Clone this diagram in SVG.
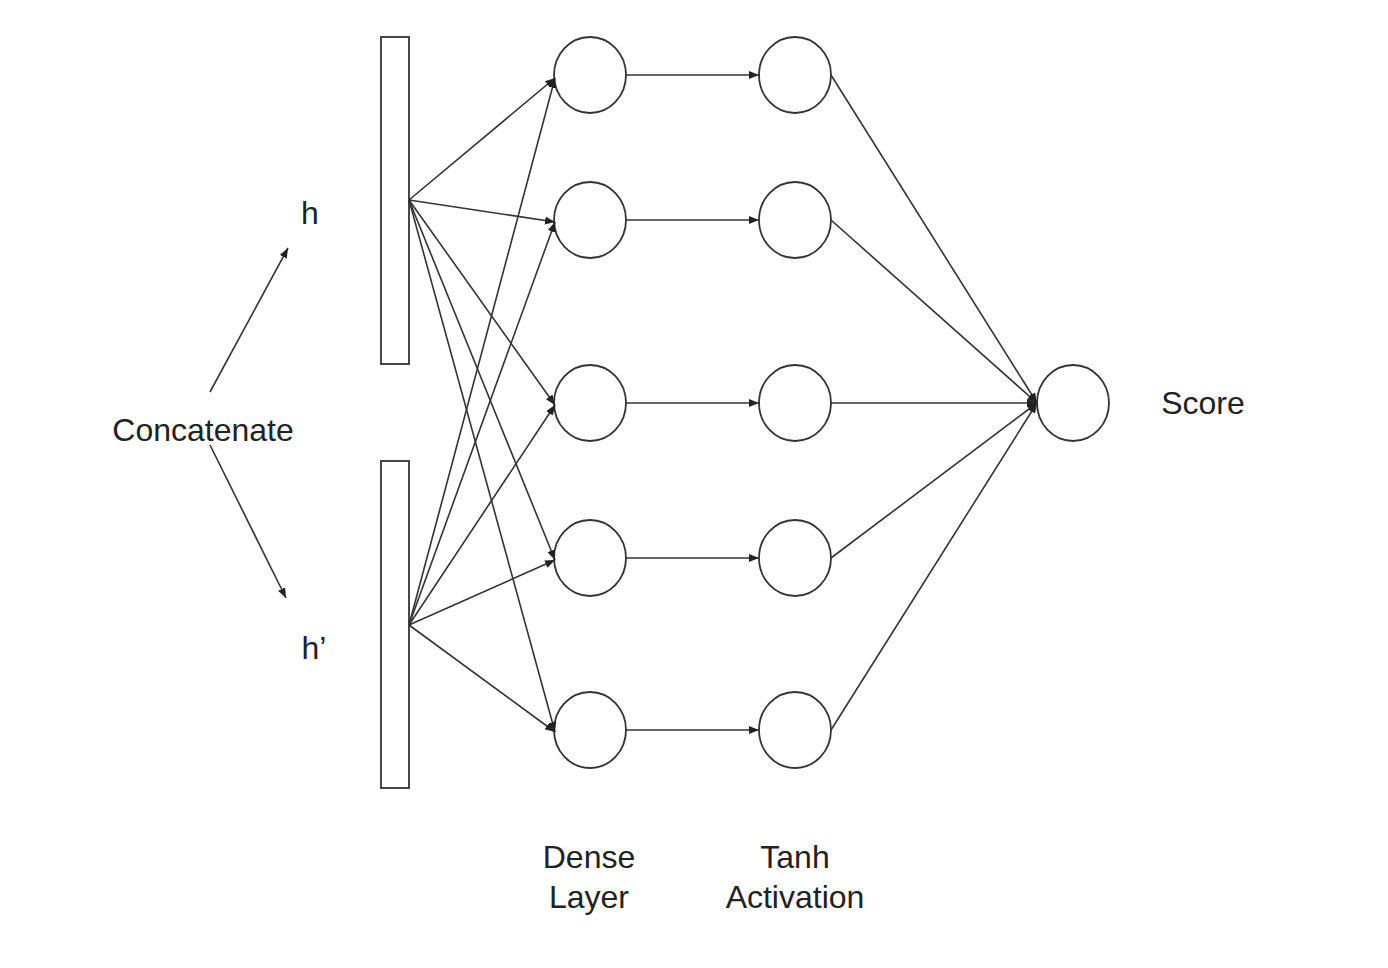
<svg xmlns="http://www.w3.org/2000/svg" width="1388" height="968" viewBox="0 0 1388 968">
<defs>
<marker id="arr" markerUnits="userSpaceOnUse" markerWidth="12" markerHeight="10" refX="10" refY="4" orient="auto">
<path d="M0,0 L10,4 L0,8 Z" fill="#222"/>
</marker>
<style>
.n{fill:#fff;stroke:#333;stroke-width:1.8}
.c line{stroke:#333;stroke-width:1.6;fill:none}
.a{marker-end:url(#arr)}
text{font-family:"Liberation Sans",Arial,sans-serif;font-size:32px;fill:#222;text-anchor:middle}
</style>
</defs>
<rect width="1388" height="968" fill="#fff"/>
<g id="h-vec"><rect class="n" x="381" y="37" width="28" height="327"/></g>
<g id="hp-vec"><rect class="n" x="381" y="461" width="28" height="327"/></g>
<g id="d1"><ellipse class="n" cx="590" cy="75" rx="36" ry="38"/></g>
<g id="d2"><ellipse class="n" cx="590" cy="220" rx="36" ry="38"/></g>
<g id="d3"><ellipse class="n" cx="590" cy="403" rx="36" ry="38"/></g>
<g id="d4"><ellipse class="n" cx="590" cy="558" rx="36" ry="38"/></g>
<g id="d5"><ellipse class="n" cx="590" cy="730" rx="36" ry="38"/></g>
<g id="t1"><ellipse class="n" cx="795" cy="75" rx="36" ry="38"/></g>
<g id="t2"><ellipse class="n" cx="795" cy="220" rx="36" ry="38"/></g>
<g id="t3"><ellipse class="n" cx="795" cy="403" rx="36" ry="38"/></g>
<g id="t4"><ellipse class="n" cx="795" cy="558" rx="36" ry="38"/></g>
<g id="t5"><ellipse class="n" cx="795" cy="730" rx="36" ry="38"/></g>
<g id="score"><ellipse class="n" cx="1073" cy="403" rx="36" ry="38"/></g>
<g class="c" id="connectors">
<line class="a" x1="210" y1="392" x2="288" y2="248"/>
<line class="a" x1="210" y1="445" x2="286" y2="598"/>
<line class="a" x1="409" y1="200" x2="555" y2="78"/>
<line class="a" x1="409" y1="200" x2="555" y2="222"/>
<line class="a" x1="409" y1="200" x2="555" y2="405"/>
<line class="a" x1="409" y1="200" x2="555" y2="560"/>
<line class="a" x1="409" y1="200" x2="555" y2="732"/>
<line class="a" x1="409" y1="625" x2="555" y2="78"/>
<line class="a" x1="409" y1="625" x2="555" y2="222"/>
<line class="a" x1="409" y1="625" x2="555" y2="405"/>
<line class="a" x1="409" y1="625" x2="555" y2="560"/>
<line class="a" x1="409" y1="625" x2="555" y2="732"/>
<line class="a" x1="626" y1="75" x2="759" y2="75"/>
<line class="a" x1="626" y1="220" x2="759" y2="220"/>
<line class="a" x1="626" y1="403" x2="759" y2="403"/>
<line class="a" x1="626" y1="558" x2="759" y2="558"/>
<line class="a" x1="626" y1="730" x2="759" y2="730"/>
<line class="a" x1="831" y1="75" x2="1037" y2="403"/>
<line class="a" x1="831" y1="220" x2="1037" y2="403"/>
<line class="a" x1="831" y1="403" x2="1037" y2="403"/>
<line class="a" x1="831" y1="558" x2="1037" y2="403"/>
<line class="a" x1="831" y1="730" x2="1037" y2="403"/>
</g>
<g id="labels">
<text x="310" y="224">h</text>
<text x="314" y="659">h’</text>
<text x="203" y="441">Concatenate</text>
<text x="1203" y="414">Score</text>
<text x="589" y="868">Dense</text>
<text x="589" y="908">Layer</text>
<text x="795" y="868">Tanh</text>
<text x="795" y="908">Activation</text>
</g>
</svg>
